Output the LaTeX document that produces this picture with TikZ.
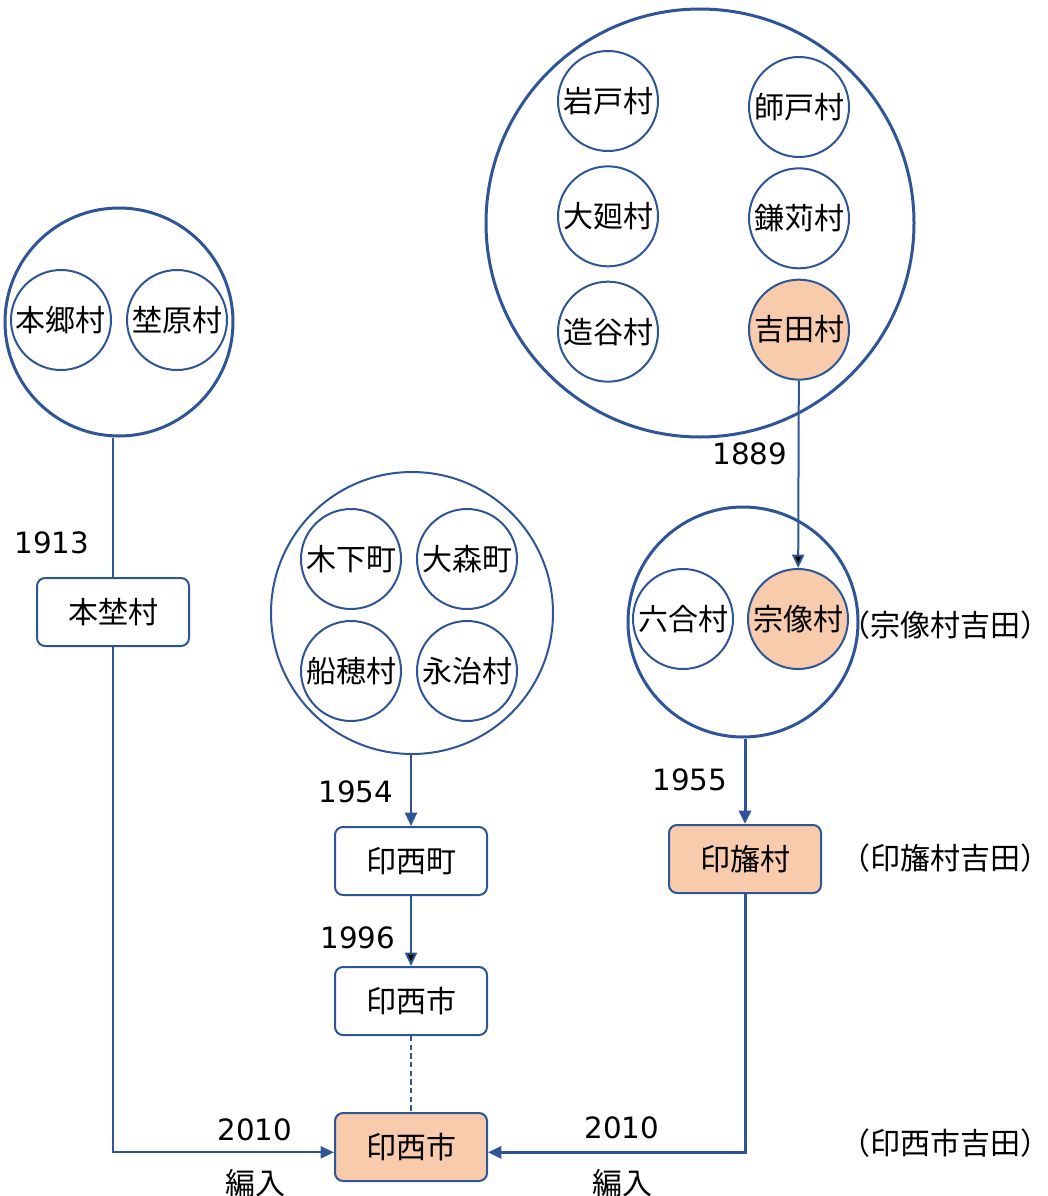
\documentclass[tikz,border=0pt]{standalone}
\usepackage{fontspec}
\setmainfont{Noto Sans CJK JP}
\newfontfamily\yearfont{DejaVu Sans}
\usetikzlibrary{arrows.meta,positioning}
\definecolor{lineblue}{HTML}{2F5597}
\definecolor{peach}{HTML}{F8CBAD}
\tikzset{
  mura/.style={circle, draw=lineblue, line width=1.5pt, minimum size=75pt, inner sep=0pt},
  gappei/.style={circle, draw=lineblue, line width=2.25pt, inner sep=0pt},
  hako/.style={rectangle, rounded corners=6pt, draw=lineblue, line width=1.5pt,
    minimum width=114pt, minimum height=51pt},
  yoshida/.style={fill=peach},
  nen/.style={font=\yearfont\fontsize{22}{26}\selectfont},
  chuki/.style={inner sep=0pt},
  conn/.style={draw=lineblue, line width=1.5pt},
  arr/.style={-{Triangle[length=10pt,width=9pt]}},
}
\begin{document}
\begin{tikzpicture}[x=0.75pt, y=-0.75pt, every node/.style={font=\fontsize{22.5}{27}\selectfont}]
    \useasboundingbox (0,0) rectangle (1048,1196);
    % left group
    \node[gappei, minimum size=171pt](h0) at (119,322){};
      \node[mura](h1) at (61,320){本郷村};
      \node[mura, right of=h1, node distance=87pt](h2){埜原村};
    \node[hako](hb) at (113,612){本埜村};
    % top right group
    \node[gappei, minimum size=321pt](t0) at (700,223){};
      \node[mura](t1) at (608,101){岩戸村};
      \node[mura, below of=t1, node distance=86.5pt](t3){大廻村};
      \node[mura, below of=t3, node distance=86.5pt](t5){造谷村};
      \node[mura](t2) at (799,107){師戸村};
      \node[mura, below of=t2, node distance=83.5pt](t4){鎌苅村};
      \node[mura, yoshida, below of=t4, node distance=83.5pt](t6){吉田村};
    % middle right group
    \node[gappei, minimum size=172.5pt](r0) at (743,622){};
      \node[mura](r1) at (683,619){六合村};
      \node[mura, yoshida, right of=r1, node distance=86.25pt](r2){宗像村};
    \node[hako, yoshida](ib) at (745,859){印旛村};
    % middle group
    \node[gappei, line width=1.5pt, minimum size=211.5pt](m0) at (412,613){};
      \node[mura](m1) at (351,559){木下町};
      \node[mura, right of=m1, node distance=87pt](m2){大森町};
      \node[mura, below of=m1, node distance=84pt](m3){船穂村};
      \node[mura, right of=m3, node distance=87pt](m4){永治村};
    \node[hako](c1) at (411,861){印西町};
    \node[hako, below of=c1, node distance=105pt](c2){印西市};
    \node[hako, yoshida, below of=c2, node distance=109.5pt](f){印西市};
    % years and notes
    \node[nen](n1913) at (52,543){1913};
    \node[nen](n1889) at (750,454){1889};
    \node[nen](n1954) at (356,792){1954};
    \node[nen](n1996) at (358,938){1996};
    \node[nen](n1955) at (690,780){1955};
    \node[nen](n2010a) at (255,1130){2010};
    \node(hen1) at (255,1183){編入};
    \node[nen](n2010b) at (622,1128){2010};
    \node(hen2) at (622,1183){編入};
    \node[chuki](k1) at (945,625){（宗像村吉田）};
    \node[chuki](k2) at (945,858){（印旛村吉田）};
    \node[chuki](k3) at (945,1143){（印西市吉田）};
    % connectors
    \path[conn] (h0.south -| hb) edge (hb);
    \draw[conn, arr] (hb) |- ([yshift=-4pt]f.west);
    \path[conn, arr] (t6) edge (r2);
    \draw[conn, arr, line width=2.25pt] (r0.south -| ib) -- (ib);
    \draw[conn, arr, line width=2.25pt] (ib) |- ([yshift=-4pt]f.east);
    \draw[conn, arr] (m0.south -| c1) -- (c1);
    \path[conn, arr] (c1) edge (c2);
    \path[conn, dash pattern=on 4pt off 2.5pt] (c2) edge (f);
\end{tikzpicture}
\end{document}
